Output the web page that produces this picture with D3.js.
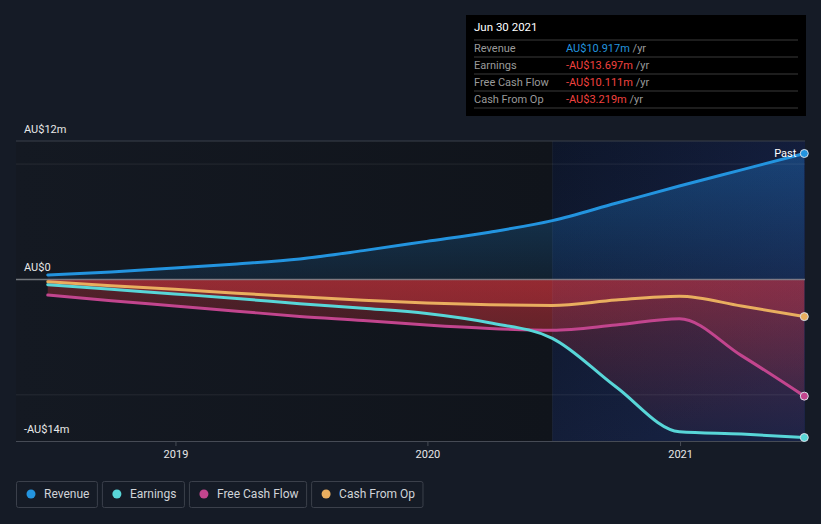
<!DOCTYPE html>
<html>
<head>
<meta charset="utf-8">
<script src="https://cdn.jsdelivr.net/npm/d3@7"></script>
<style>
  html, body { margin: 0; padding: 0; background: #151b26; }
  svg { display: block; font-family: Roboto, "Open Sans", sans-serif; }
</style>
</head>
<body>
<svg id="chart" width="821" height="524"></svg>
<script>
// ---- data (AU$ millions, trailing twelve months) ----
const dates = ["2018-06-30","2018-09-30","2018-12-31","2019-03-31","2019-06-30","2019-09-30","2019-12-31",
               "2020-03-31","2020-06-30","2020-09-30","2020-12-31","2021-03-31","2021-06-30"];
const revenue      = [0.39, 0.65, 1.0, 1.35, 1.78, 2.5, 3.3, 4.1, 5.1, 6.6, 8.1, 9.5, 10.917];
const earnings     = [-0.45, -0.85, -1.25, -1.65, -2.1, -2.5, -2.95, -3.75, -5.1, -9.3, -13.2, -13.4, -13.697];
const freeCashFlow = [-1.35, -1.85, -2.3, -2.75, -3.2, -3.55, -3.95, -4.25, -4.4, -3.95, -3.4, -6.6, -10.111];
const cashFromOp   = [-0.2, -0.55, -0.85, -1.2, -1.5, -1.8, -2.05, -2.2, -2.25, -1.78, -1.45, -2.3, -3.219];
const seriesNames  = ["Revenue", "Earnings", "Free Cash Flow", "Cash From Op"];
const seriesColors = ["#2394df", "#58d6d8", "#c2458e", "#e9ae5f"];
const tooltipDate  = "Jun 30 2021";
const tooltipVals  = ["AU$10.917m", "-AU$13.697m", "-AU$10.111m", "-AU$3.219m"];
const yTickLabels  = [[12, "AU$12m"], [0, "AU$0"], [-14, "-AU$14m"]];
const gridValues   = [10, -10];
const xTicks       = ["2019-01-01", "2020-01-01", "2021-01-01"];
const highlightStart = "2020-06-30";

// ---- setup ----
const svg = d3.select("#chart");
const parse = d3.utcParse("%Y-%m-%d");
const L = 16, R = 805, T = 141, B = 441;
const x = d3.scaleUtc().domain([parse("2018-05-15"), parse("2021-07-01")]).range([L, R]);
const y = d3.scaleLinear().domain([-14, 12]).range([B, T]);
const allSeries = [revenue, earnings, freeCashFlow, cashFromOp].map((vals, i) => ({
  name: seriesNames[i], color: seriesColors[i],
  data: vals.map((v, j) => ({ d: parse(dates[j]), v }))
}));
const hx = x(parse(highlightStart));

const defs = svg.append("defs");
function grad(id, attrs, stops) {
  const g = defs.append("linearGradient").attr("id", id);
  Object.entries(attrs).forEach(([k, v]) => g.attr(k, v));
  stops.forEach(([o, c, a]) => g.append("stop").attr("offset", o).attr("stop-color", c).attr("stop-opacity", a));
}
grad("pbg", {x1: 0, x2: 1, y1: 0, y2: 0}, [[0, "#141922", 1], [1, "#10141b", 1]]);
grad("hbase", {x1: 0, x2: 0.35, y1: 0, y2: 1}, [[0, "#0b1322", 1], [1, "#121c33", 1]]);
grad("hover", {x1: 0, x2: 1, y1: 0, y2: 0}, [[0, "rgb(50,70,170)", 0.06], [1, "rgb(50,70,170)", 0.16]]);
grad("posA", {gradientUnits: "userSpaceOnUse", x1: 0, x2: 0, y1: y(12), y2: y(0)},
  [[0, "rgb(33,150,243)", 0.36], [1, "rgb(33,150,243)", 0.1]]);
grad("negA", {gradientUnits: "userSpaceOnUse", x1: 0, x2: 0, y1: y(0), y2: y(-14)},
  [[0, "rgb(185,48,56)", 0.4], [1, "rgb(185,48,56)", 0.05]]);

// plot background
svg.append("rect").attr("x", L).attr("y", T).attr("width", hx - L).attr("height", B - T).attr("fill", "url(#pbg)");
svg.append("rect").attr("x", hx).attr("y", T).attr("width", R - hx).attr("height", B - T).attr("fill", "url(#hbase)");

// areas
const area = d3.area().x(p => x(p.d)).y0(y(0)).y1(p => y(p.v)).curve(d3.curveMonotoneX);
allSeries.forEach((s, i) => {
  svg.append("path").datum(s.data).attr("d", area).attr("fill", i === 0 ? "url(#posA)" : "url(#negA)");
});
svg.append("rect").attr("x", hx).attr("y", T).attr("width", R - hx).attr("height", B - T).attr("fill", "url(#hover)");
svg.append("line").attr("x1", hx).attr("x2", hx).attr("y1", T).attr("y2", B)
  .attr("stroke", "#ffffff").attr("stroke-opacity", 0.04);

// gridlines
svg.append("line").attr("x1", L).attr("x2", R).attr("y1", y(12)).attr("y2", y(12))
  .attr("stroke", "#3b404b").attr("stroke-width", 1);
gridValues.forEach(g => svg.append("line").attr("x1", L).attr("x2", R).attr("y1", y(g)).attr("y2", y(g))
  .attr("stroke", "#ffffff").attr("stroke-opacity", 0.08).attr("stroke-width", 1));
svg.append("line").attr("x1", L).attr("x2", R).attr("y1", y(0)).attr("y2", y(0))
  .attr("stroke", "#8a8d94").attr("stroke-opacity", 0.8).attr("stroke-width", 1.5);

// x axis
const xAxis = d3.axisBottom(x).tickValues(xTicks.map(parse)).tickFormat(d3.utcFormat("%Y")).tickSize(5).tickPadding(4);
const gx = svg.append("g").attr("transform", `translate(0,${B})`).call(xAxis);
gx.select(".domain").attr("stroke", "#464b55").attr("d", `M${L},0.5H${R}`);
gx.selectAll(".tick line").attr("stroke", "#464b55");
gx.selectAll(".tick text").attr("fill", "#e8e8e8").attr("font-size", 11).attr("font-family", "Roboto, sans-serif");

// y labels
yTickLabels.forEach(([v, t]) => svg.append("text").attr("x", 24).attr("y", y(v) - 8)
  .attr("fill", "#e8e8e8").attr("font-size", 11).text(t));

// lines
const line = d3.line().x(p => x(p.d)).y(p => y(p.v)).curve(d3.curveMonotoneX);
[0, 3, 2, 1].forEach(i => {
  const s = allSeries[i];
  svg.append("path").datum(s.data).attr("d", line).attr("fill", "none")
    .attr("stroke", s.color).attr("stroke-width", 3).attr("stroke-linecap", "round");
});
allSeries.forEach(s => {
  const p = s.data[s.data.length - 1];
  svg.append("circle").attr("cx", x(p.d)).attr("cy", y(p.v)).attr("r", 4)
    .attr("fill", s.color).attr("stroke", "#d8dde6").attr("stroke-width", 1);
});
const last = allSeries[0].data[allSeries[0].data.length - 1];
svg.append("text").attr("x", x(last.d) - 8).attr("y", y(last.v) + 4).attr("text-anchor", "end")
  .attr("fill", "#ffffff").attr("font-size", 11).text("Past");

// tooltip
const tt = svg.append("g").attr("transform", "translate(466,15)");
tt.append("rect").attr("width", 340).attr("height", 101).attr("fill", "#000000");
tt.append("text").attr("x", 8).attr("y", 16).attr("fill", "#ffffff").attr("font-size", 11.5).text(tooltipDate);
seriesNames.forEach((n, i) => {
  const ry = 25 + i * 17;
  tt.append("line").attr("x1", 8).attr("x2", 332).attr("y1", ry).attr("y2", ry).attr("stroke", "#3a3a3a");
  tt.append("text").attr("x", 8).attr("y", ry + 12).attr("fill", "#9a9a9a").attr("font-size", 11).text(n);
  const t = tt.append("text").attr("x", 100).attr("y", ry + 12).attr("font-size", 11);
  t.append("tspan").attr("fill", i === 0 ? "#2394df" : "#f0423f").text(tooltipVals[i]);
  t.append("tspan").attr("fill", "#9a9a9a").text(" /yr");
});
tt.append("line").attr("x1", 8).attr("x2", 332).attr("y1", 93).attr("y2", 93).attr("stroke", "#3a3a3a");

// legend
const legend = svg.append("g").attr("transform", "translate(16,481)");
let lx = 0;
seriesNames.forEach((n, i) => {
  const g = legend.append("g").attr("transform", `translate(${lx},0)`);
  const txt = g.append("text").attr("x", 28).attr("y", 17).attr("fill", "#d0d3d8").attr("font-size", 12).text(n);
  const w = txt.node().getComputedTextLength() + 35.5;
  g.insert("rect", "text").attr("x", 0.5).attr("y", 0.5).attr("width", w).attr("height", 26).attr("rx", 2)
    .attr("fill", "none").attr("stroke", "#3b404b");
  g.append("circle").attr("cx", 15).attr("cy", 13).attr("r", 4.5).attr("fill", seriesColors[i]);
  lx += w + 5;
});
</script>
</body>
</html>
